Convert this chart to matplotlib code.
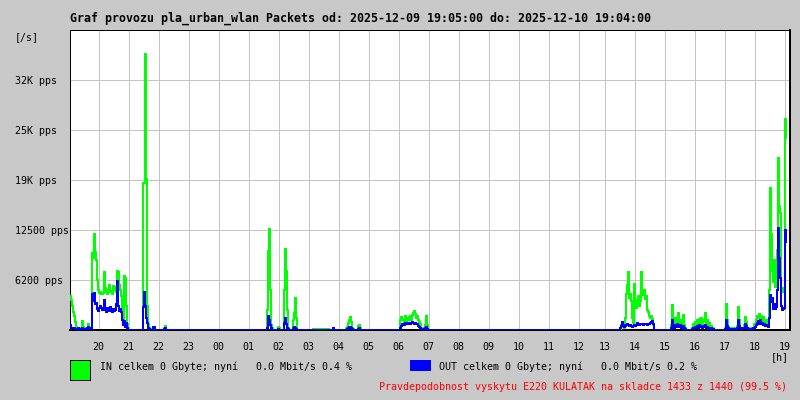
#!/usr/bin/python3
# Graf provozu pla_urban_wlan - packets/s, jeden pixel = jeden vzorek (2 minuty)

import numpy as np
import matplotlib
matplotlib.use("Agg")
import matplotlib.pyplot as plt
from matplotlib.patches import Rectangle

title = "Graf provozu pla_urban_wlan Packets od: 2025-12-09 19:05:00 do: 2025-12-10 19:04:00"
legend_in = "IN celkem 0 Gbyte; nyní   0.0 Mbit/s 0.4 %"
legend_out = "OUT celkem 0 Gbyte; nyní   0.0 Mbit/s 0.2 %"
footer = "Pravdepodobnost vyskytu E220 KULATAK na skladce 1433 z 1440 (99.5 %)"

hours = ["20", "21", "22", "23", "00", "01", "02", "03", "04", "05", "06", "07",
         "08", "09", "10", "11", "12", "13", "14", "15", "16", "17", "18", "19"]
y_ticks = [6250, 12500, 18750, 25000, 31250]
y_labels = ["6200 pps", "12500 pps", "19K pps", "25K pps", "32K pps"]
y_max = 37500

first_sample = "19:03"
last_sample = "19:04"     # next day
step_minutes = 2
gap_at = "12:20"          # missing samples, graph just skips them
gap_minutes = 8

# bursts of traffic, one value per sample (pps), zero elsewhere
in_a = [4300, 3800, 3000, 2200, 1800, 1000, 400, 300, 200, 200,
        300, 200, 1100, 400, 200, 100, 100, 300, 700, 300,
        100, 100, 9600, 9000, 12000, 9800, 8700, 6200, 5000, 4600,
        4700, 4500, 4500, 4600, 7200, 5200, 4800, 4500, 5000, 5600,
        4700, 4900, 4500, 5500, 5000, 5400, 4800, 7400, 7300, 5600,
        5000, 4200, 1500, 800, 6700, 6500, 3000, 800, 0]
out_a = [600, 300, 200, 300, 200, 100, 100, 100, 200, 100,
         100, 100, 300, 100, 100, 100, 100, 200, 400, 200,
         100, 100, 4500, 3600, 4600, 3200, 3400, 2600, 2400, 2800,
         3000, 2700, 2500, 2600, 3800, 2500, 2300, 2700, 2600, 2400,
         2900, 2500, 2200, 2600, 2400, 2500, 3300, 6100, 3000, 2400,
         2600, 2200, 1300, 600, 1100, 400, 900, 200, 0]

in_b = [18400, 18400, 34500, 18900, 3000, 800, 300, 100, 0, 0,
        0, 200, 0, 0, 0, 0, 0, 0, 0, 0,
        0, 300, 500, 0]
out_b = [2900, 4800, 3000, 1500, 900, 300, 100, 0, 0, 0,
         400, 400, 0, 0, 0, 0, 0, 0, 0, 0,
         0, 100, 200, 0]

in_c = [2500, 9900, 12600, 5000, 600, 200, 0, 0, 0, 0,
        0, 400, 300, 0, 0, 0, 0, 5000, 10100, 7400,
        2500, 300, 0, 0, 0, 0, 1200, 2100, 4000, 1500,
        0]
out_c = [300, 1700, 1200, 600, 200, 0, 0, 0, 0, 0,
         0, 100, 0, 0, 0, 0, 0, 900, 1500, 700,
         300, 100, 0, 0, 0, 0, 200, 400, 300, 100,
         0]

in_c2 = [150, 150, 150, 150, 150, 150, 150, 150, 150, 150,
         150, 150, 150, 150, 150, 150, 0, 0, 0, 0, 0, 0]
out_c2 = [0, 0, 0, 0, 0, 0, 0, 0, 0, 0,
          0, 0, 0, 0, 0, 0, 0, 0, 0, 0, 200, 0]

in_d = [200, 400, 900, 1200, 1600, 1000, 300, 100, 0, 0, 0, 0, 500, 600, 200, 0]
out_d = [0, 100, 300, 400, 400, 200, 100, 0, 0, 0, 0, 0, 100, 200, 0, 0]

in_e = [1300, 1600, 1200, 1400, 1000, 1800, 1000, 1500, 1300, 1600,
        1700, 1200, 1900, 2100, 2400, 2000, 1500, 1800, 1200, 1000,
        700, 300, 200, 100, 200, 600, 1700, 600, 0]
out_e = [300, 500, 800, 700, 600, 900, 700, 800, 900, 700,
         800, 900, 1000, 900, 800, 900, 700, 800, 500, 400,
         300, 100, 100, 100, 100, 200, 400, 100, 0]

in_f = [0, 600, 400, 700, 300, 1500, 4500, 5600, 7200, 4000,
        4500, 3600, 1500, 900, 5700, 3800, 2800, 3700, 4200, 3000,
        3600, 7200, 4800, 4400, 5000, 3900, 4300, 2500, 2200, 1800,
        1500, 1700, 1400, 600, 0]
out_f = [200, 500, 1000, 600, 400, 500, 600, 700, 600, 500,
         600, 500, 400, 500, 600, 500, 600, 900, 700, 600,
         700, 800, 700, 600, 700, 800, 700, 600, 700, 800,
         900, 1000, 1100, 800, 0]

in_g = [600, 3100, 1200, 500, 1500, 800, 1300, 2100, 900, 1200, 500, 800, 1900, 600, 200, 0]
out_g = [300, 1250, 500, 300, 600, 400, 800, 500, 400, 600, 300, 400, 500, 200, 100, 0]

in_h = [300, 700, 500, 1000, 600, 1200, 800, 1400, 900, 1500,
        700, 1100, 1300, 2100, 800, 1200, 500, 900, 300, 500,
        200, 300, 0]
out_h = [100, 300, 200, 400, 300, 500, 300, 600, 400, 500,
         300, 400, 500, 600, 300, 400, 200, 300, 100, 200,
         100, 100, 0]

in_i = [300, 3300, 1200, 400, 200, 100, 100, 200, 100, 100,
        200, 300, 500, 2900, 1200, 300, 200, 100, 300, 600,
        1600, 1000, 300, 200, 100, 100, 200, 200, 300, 800,
        600, 1200, 1800, 1500, 2000, 1400, 1800, 1000, 1600, 900,
        1300, 800, 1200, 700, 5000, 17700, 12000, 7400, 6000, 8800,
        5400, 7000, 10000, 21500, 15500, 14600, 5000, 4800, 5200, 4900,
        26400, 24000]
out_i = [100, 1250, 500, 200, 100, 100, 100, 100, 0, 100,
         100, 100, 200, 1250, 500, 200, 100, 100, 200, 300,
         700, 500, 200, 100, 100, 100, 100, 100, 200, 300,
         400, 600, 900, 1100, 800, 1200, 700, 900, 600, 700,
         500, 600, 500, 400, 1500, 4400, 3500, 4000, 2600, 3300,
         2600, 2900, 5000, 12700, 9000, 6500, 3000, 2500, 2600, 2700,
         12500, 11000]

bursts = [("19:03", in_a, out_a), ("21:29", in_b, out_b), ("01:37", in_c, out_c),
          ("03:09", in_c2, out_c2), ("04:15", in_d, out_d), ("06:03", in_e, out_e),
          ("13:31", in_f, out_f), ("15:13", in_g, out_g), ("15:55", in_h, out_h),
          ("17:01", in_i, out_i)]


def minutes(hhmm):
    h, m = hhmm.split(":")
    return int(h) * 60 + int(m)


# position of a time on the graph in samples (the graph has no time gaps, missing samples are skipped)
def to_slot(hhmm, day=0):
    t = (minutes(hhmm) - minutes(first_sample)) % 1440 + 1440 * day
    s = t / step_minutes
    if t > (minutes(gap_at) - minutes(first_sample)) % 1440:
        s -= gap_minutes / step_minutes
    return s


n = int(to_slot(last_sample, day=1)) + 1
traffic_in = np.zeros(n)
traffic_out = np.zeros(n)
for start, vin, vout in bursts:
    i0 = int(to_slot(start))
    traffic_in[i0:i0 + len(vin)] = vin
    traffic_out[i0:i0 + len(vout)] = vout

hour_slots = [to_slot(h + ":00") for h in hours]

BG = "#c8c8c8"
GRID = "#c4c4c4"
MONO = "DejaVu Sans Mono"
PX = 0.72  # one pixel in points

fig = plt.figure(figsize=(8, 4), dpi=100, facecolor=BG)
ax = fig.add_axes([70 / 800, 70 / 400, 720 / 800, 300 / 400])
ax.set_facecolor("white")

edges = np.arange(n + 1)
ax.stairs(traffic_in, edges, baseline=None, color="#00ff00", lw=PX, antialiased=False, zorder=3)
ax.stairs(traffic_out, edges, baseline=None, color="#0000ff", lw=PX, antialiased=False, zorder=4)

ax.set_xlim(0, 720)
ax.set_ylim(0, y_max)
ax.set_xticks(hour_slots, hours)
ax.set_yticks(y_ticks, y_labels)
ax.grid(True, color=GRID, lw=PX, antialiased=False)
ax.set_axisbelow(True)

ax.tick_params(axis="x", length=0, pad=8.5, labelsize=7.2)
ax.tick_params(axis="y", length=0, pad=39.6, labelsize=7.2)
for lab in ax.get_xticklabels() + ax.get_yticklabels():
    lab.set_fontfamily(MONO)
for lab in ax.get_yticklabels():
    lab.set_horizontalalignment("left")

for side in ["left", "top"]:
    ax.spines[side].set_linewidth(PX)
for side in ["bottom", "right"]:
    ax.spines[side].set_linewidth(2 * PX)
for side in ax.spines:
    ax.spines[side].set_color("black")

fig.text(70 / 800, 1 - 18.5 / 400, title, fontsize=8.37, fontweight="bold", family=MONO, va="center")
fig.text(15 / 800, 1 - 37 / 400, "[/s]", fontsize=7.2, family=MONO, va="center")
fig.text(771 / 800, 1 - 357 / 400, "[h]", fontsize=7.2, family=MONO, va="center")

# legenda
fig.patches.append(Rectangle((70 / 800, 20 / 400), 20 / 800, 20 / 400, transform=fig.transFigure,
                             facecolor="#00ff00", edgecolor="black", lw=PX))
fig.patches.append(Rectangle((410 / 800, 29 / 400), 21 / 800, 11 / 400, transform=fig.transFigure,
                             facecolor="#0000ff", edgecolor="none"))
fig.text(100 / 800, 1 - 366.7 / 400, legend_in, fontsize=7.2, family=MONO, va="center")
fig.text(439 / 800, 1 - 366.7 / 400, legend_out, fontsize=7.2, family=MONO, va="center")
fig.text(787 / 800, 1 - 387.3 / 400, footer, fontsize=7.2, family=MONO, va="center", ha="right", color="red")

fig.savefig("out.png", dpi=100, facecolor=BG)
